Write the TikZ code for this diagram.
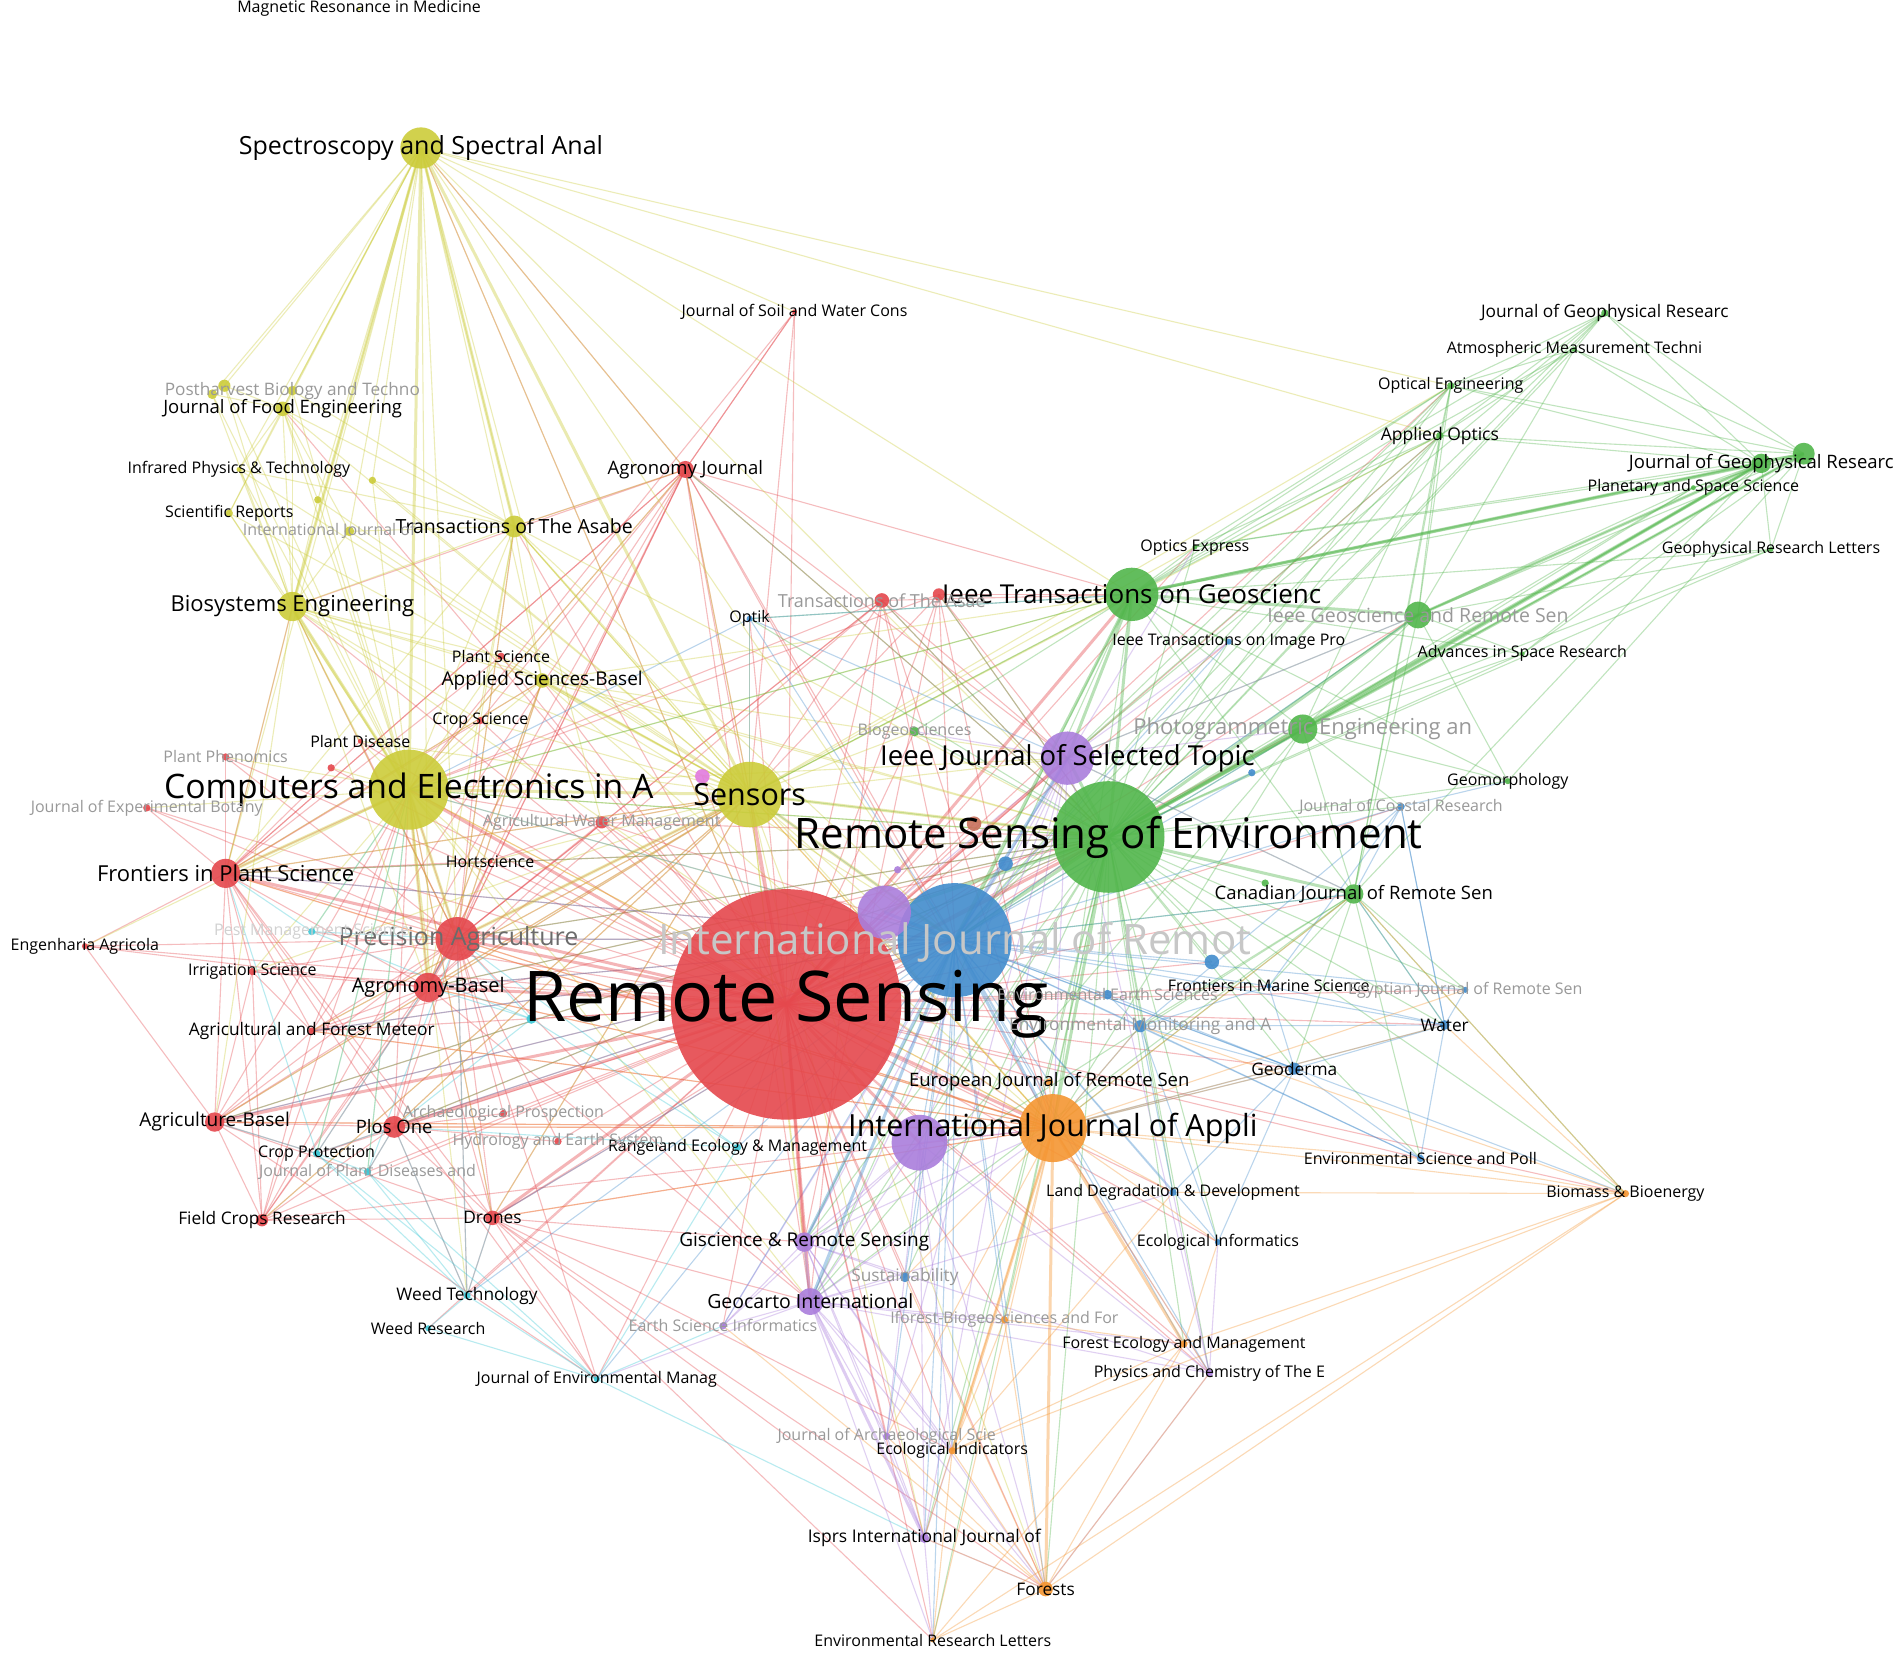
\documentclass[tikz,border=0pt]{standalone}
\usepackage{fontspec}
\setmainfont{Open Sans}
\usepackage{xcolor}
\definecolor{cred}{RGB}{229, 72, 77}
\definecolor{cgreen}{RGB}{82, 182, 76}
\definecolor{cblue}{RGB}{66, 140, 205}
\definecolor{cyellow}{RGB}{204, 204, 58}
\definecolor{cpurple}{RGB}{170, 126, 220}
\definecolor{corange}{RGB}{245, 150, 50}
\definecolor{ccyan}{RGB}{60, 200, 215}
\definecolor{cpink}{RGB}{226, 122, 222}
\definecolor{cbrown}{RGB}{200, 112, 92}
\pgfdeclarelayer{bg}
\pgfdeclarelayer{fg}
\pgfsetlayers{bg,main,fg}

\begin{document}
\begin{tikzpicture}[x=1.213pt, y=-1.213pt,
    jnl/.style 2 args={circle, fill=#1, fill opacity=0.9, inner sep=0pt, minimum size={#2*2.426pt}},
    lnk/.style={line width=1.1pt, draw opacity=0.36},
    lnkb/.style={line width=3pt, draw opacity=0.4},
    lbl/.style={font=\fontsize{#1pt}{#1pt}\selectfont, inner sep=0pt, text=black},
    lblf/.style={lbl=#1, text=black!40}]

  \begin{pgfonlayer}{bg}
    \fill[white] (0,0) rectangle (1568,1373);
  \end{pgfonlayer}
  \useasboundingbox (0,0) rectangle (1568,1373);

  % red cluster
  \node[jnl={cred}{95}]  (rs)     at (648,828)  {};
  \node[jnl={cred}{18}]  (pa)     at (377,774)  {};
  \node[jnl={cred}{12}]  (fps)    at (186,720)  {};
  \node[jnl={cred}{12}]  (agb)    at (353,814)  {};
  \node[jnl={cred}{8}]   (agrb)   at (177,925)  {};
  \node[jnl={cred}{9}]   (plos)   at (325,929)  {};
  \node[jnl={cred}{7}]   (agj)    at (565,387)  {};
  \node[jnl={cred}{5}]   (fcr)    at (216,1006) {};
  \node[jnl={cred}{6}]   (drones) at (406,1004) {};
  \node[jnl={cred}{3}]   (afm)    at (257,850)  {};
  \node[jnl={cred}{3}]   (irr)    at (208,801)  {};
  \node[jnl={cred}{2.5}] (eng)    at (70,780)   {};
  \node[jnl={cred}{2}]   (hort)   at (404,710)  {};
  \node[jnl={cred}{5}]   (awm)    at (496,678)  {};
  \node[jnl={cred}{2}]   (pdis)   at (297,611)  {};
  \node[jnl={cred}{3}]   (pphen)  at (186,624)  {};
  \node[jnl={cred}{3}]   (jeb)    at (121,666)  {};
  \node[jnl={cred}{3}]   (csci)   at (396,594)  {};
  \node[jnl={cred}{3}]   (psci)   at (413,541)  {};
  \node[jnl={cred}{6}]   (tasae)  at (727,495)  {};
  \node[jnl={cred}{5}]   (rdot1)  at (774,490)  {};
  \node[jnl={cred}{3}]   (arch)   at (415,918)  {};
  \node[jnl={cred}{3}]   (hydro)  at (460,941)  {};
  \node[jnl={cred}{2}]   (jswc)   at (655,257)  {};
  \node[jnl={cred}{3}]   (rdot2)  at (273,633)  {};
  % yellow cluster
  \node[jnl={cyellow}{33}]  (cea)    at (337,651) {};
  \node[jnl={cyellow}{27}]  (sen)    at (618,655) {};
  \node[jnl={cyellow}{17}]  (ssa)    at (347,122) {};
  \node[jnl={cyellow}{12}]  (bse)    at (241,500) {};
  \node[jnl={cyellow}{9}]   (tasabe) at (424,434) {};
  \node[jnl={cyellow}{6}]   (jfe)    at (233,337) {};
  \node[jnl={cyellow}{6}]   (asb)    at (447,561) {};
  \node[jnl={cyellow}{4}]   (pbt)    at (241,322) {};
  \node[jnl={cyellow}{2}]   (ipt)    at (197,387) {};
  \node[jnl={cyellow}{3}]   (scir)   at (189,423) {};
  \node[jnl={cyellow}{4}]   (ijag)   at (288,438) {};
  \node[jnl={cyellow}{5}]   (ydot1)  at (185,318) {};
  \node[jnl={cyellow}{4}]   (ydot2)  at (175,325) {};
  \node[jnl={cyellow}{3}]   (ydot3)  at (262,412) {};
  \node[jnl={cyellow}{3}]   (ydot4)  at (307,396) {};
  \node[jnl={cyellow}{1.5}] (mrm)    at (296,7)   {};
  % green cluster
  \node[jnl={cgreen}{46}]  (rse)    at (914,690)  {};
  \node[jnl={cgreen}{22}]  (tgrs)   at (933,490)  {};
  \node[jnl={cgreen}{11}]  (grsl)   at (1169,507) {};
  \node[jnl={cgreen}{12}]  (pers)   at (1074,601) {};
  \node[jnl={cgreen}{8}]   (cjrs)   at (1116,737) {};
  \node[jnl={cgreen}{9}]   (jgra)   at (1487,374) {};
  \node[jnl={cgreen}{8}]   (jgrb)   at (1452,382) {};
  \node[jnl={cgreen}{3}]   (jgrt)   at (1323,258) {};
  \node[jnl={cgreen}{2}]   (amt)    at (1298,288) {};
  \node[jnl={cgreen}{3}]   (opteng) at (1196,318) {};
  \node[jnl={cgreen}{3}]   (aopt)   at (1187,359) {};
  \node[jnl={cgreen}{2}]   (pss)    at (1396,402) {};
  \node[jnl={cgreen}{2}]   (grl)    at (1460,453) {};
  \node[jnl={cgreen}{2}]   (opex)   at (985,451)  {};
  \node[jnl={cgreen}{2}]   (asr)    at (1255,539) {};
  \node[jnl={cgreen}{2.5}] (geom)   at (1243,644) {};
  \node[jnl={cgreen}{4}]   (biog)   at (754,603)  {};
  \node[jnl={cgreen}{3}]   (gdot)   at (1043,728) {};
  % blue cluster
  \node[jnl={cblue}{47}]  (ijrs)     at (787,775)  {};
  \node[jnl={cblue}{2.5}] (optik)    at (618,510)  {};
  \node[jnl={cblue}{2.5}] (tip)      at (1013,529) {};
  \node[jnl={cblue}{3}]   (jcr)      at (1155,665) {};
  \node[jnl={cblue}{2}]   (fms)      at (1046,813) {};
  \node[jnl={cblue}{6}]   (bdot1)    at (999,793)  {};
  \node[jnl={cblue}{2.5}] (ejrs)     at (1208,816) {};
  \node[jnl={cblue}{4}]   (water)    at (1191,845) {};
  \node[jnl={cblue}{5}]   (ema)      at (940,846)  {};
  \node[jnl={cblue}{4}]   (eesc)     at (913,820)  {};
  \node[jnl={cblue}{5}]   (geoderma) at (1067,881) {};
  \node[jnl={cblue}{3}]   (esp)      at (1171,955) {};
  \node[jnl={cblue}{3}]   (ldd)      at (967,983)  {};
  \node[jnl={cblue}{2.5}] (ecoinf)   at (1004,1024) {};
  \node[jnl={cblue}{4}]   (sust)     at (746,1053) {};
  \node[jnl={cblue}{6}]   (bdot2)    at (829,712)  {};
  \node[jnl={cblue}{3}]   (bdot3)    at (1032,637) {};
  % purple cluster
  \node[jnl={cpurple}{22}] (pu1)    at (729,752)  {};
  \node[jnl={cpurple}{22}] (jstars) at (880,625)  {};
  \node[jnl={cpurple}{23}] (pu2)    at (758,942)  {};
  \node[jnl={cpurple}{11}] (geo)    at (668,1073) {};
  \node[jnl={cpurple}{8}]  (gis)    at (663,1024) {};
  \node[jnl={cpurple}{3}]  (esi)    at (596,1093) {};
  \node[jnl={cpurple}{3}]  (jarch)  at (731,1184) {};
  \node[jnl={cpurple}{4}]  (isprs)  at (762,1268) {};
  \node[jnl={cpurple}{3}]  (pce)    at (997,1132) {};
  \node[jnl={cpurple}{3}]  (pdot)   at (740,717)  {};
  % orange cluster
  \node[jnl={corange}{28}] (ija)     at (868,930)  {};
  \node[jnl={corange}{3}]  (eurj)    at (865,892)  {};
  \node[jnl={corange}{3}]  (bb)      at (1340,984) {};
  \node[jnl={corange}{3}]  (ifor)    at (828,1088) {};
  \node[jnl={corange}{3}]  (femg)    at (976,1108) {};
  \node[jnl={corange}{3}]  (eind)    at (785,1196) {};
  \node[jnl={corange}{6}]  (forests) at (862,1310) {};
  \node[jnl={corange}{2}]  (erl)     at (769,1352) {};
  % cyan cluster
  \node[jnl={ccyan}{3}]   (wt)    at (385,1068) {};
  \node[jnl={ccyan}{2.5}] (wr)    at (353,1095) {};
  \node[jnl={ccyan}{2.5}] (jem)   at (492,1137) {};
  \node[jnl={ccyan}{3}]   (cprot) at (261,951)  {};
  \node[jnl={ccyan}{3}]   (jpd)   at (303,966)  {};
  \node[jnl={ccyan}{3}]   (rang)  at (608,946)  {};
  \node[jnl={ccyan}{3}]   (pest)  at (257,768)  {};
  \node[jnl={ccyan}{4}]   (cdot)  at (438,840)  {};
  % single dots
  \node[jnl={cpink}{6}]  (pkdot) at (579,640) {};
  \node[jnl={cbrown}{6}] (brdot) at (803,679) {};

  % links
  \begin{pgfonlayer}{bg}
  \foreach \src/\col/\tgs in {
      rs/cred/{bse,tasabe,asb,agj,jfe,ssa,fcr,afm,irr,eng,hort,awm,pdis,pphen,jeb,csci,psci,tasae,rdot1,arch,hydro,jswc,rdot2,cprot,jpd,rang,wt,wr,jem,pest,cdot,pers,grsl,cjrs,forests,isprs,eind,erl,femg,sust,esi,ldd,ecoinf,geoderma,water,ema,eurj,bb,esp,pce,ifor,jarch,optik,biog,fms,ejrs,jcr,opex,tip,aopt,opteng,pkdot,brdot,bdot1,bdot2,pdot,eesc},
      pa/cred/{fps,agb,agrb,plos,afm,irr,eng,fcr,drones,hort,awm,csci,pdis,pphen,jeb,agj,cea,sen,bse,tasabe,asb,ija,rse,ijrs,geo,cprot,arch,hydro,wt,jem,tasae},
      fps/cred/{agb,agrb,plos,eng,jeb,pphen,pdis,irr,afm,fcr,cea,sen,bse,asb,psci,csci,hort,drones,ijrs,rse,agj,ija,jem},
      agb/cred/{agrb,plos,afm,irr,fcr,drones,cea,sen,asb,ija,rse,ijrs,hort,awm,eng,geo},
      agrb/cred/{plos,fcr,drones,afm,irr,cea,sen,eng,jem,cprot,ija,ijrs,rse},
      plos/cred/{fcr,drones,cprot,jpd,wt,cea,sen,arch,hydro,ijrs,rse,ija},
      agj/cred/{cea,sen,tasabe,ssa,rse,ijrs,tgrs,agb,fps,jswc,afm,fcr,csci,bse,ija,jstars,geo,pa},
      tasae/cred/{cea,sen,rse,tgrs,ijrs,ija,jstars,pa,agb,geo},
      rdot1/cred/{rse,sen,ijrs,ija,cea,tgrs,jstars,gis},
      drones/cred/{fcr,cea,sen,ija,ijrs,rse,gis,wt,jem,geo,isprs,eind,forests,erl},
      fcr/cred/{cea,afm,irr,sen,ija},
      afm/cred/{cea,sen,rse,irr,ijrs,ija},
      awm/cred/{cea,sen,rse,ijrs,ija,hort},
      jswc/cred/{cea,agj,sen},
      cea/cyellow/{bse,tasabe,jfe,asb,pbt,ipt,scir,ijag,ydot1,ydot2,ydot3,ydot4,pdis,pphen,jeb,csci,psci,hort,eng,irr,rse,ijrs,ija,tgrs,jstars,agj,wt,cprot,jpd,pest,rdot2,geo,gis,drones},
      sen/cyellow/{bse,tasabe,asb,jfe,ipt,scir,ijag,ydot3,ydot4,tgrs,jstars,optik,pu1,ija,geo,gis,agj,opex,aopt,opteng,biog,pkdot,drones,forests,isprs,fps,agb,agrb,plos,afm,irr,hort,awm,csci,psci,pdis,fcr},
      ssa/cyellow/{jfe,ipt,scir,ijag,tasabe,bse,ydot1,ydot2,ydot3,ydot4,pbt,asb,jswc,agj,rse,ijrs,pa,fps,tgrs,aopt,opteng,agb,awm,rs},
      bse/cyellow/{tasabe,jfe,asb,pbt,ipt,scir,ijag,ydot1,ydot2,ydot3,pa,fps,agb,agrb,csci,psci,pdis,rse,ija},
      tasabe/cyellow/{jfe,asb,pbt,ipt,ydot4,ijag,pa,agb,fps,rse,ijrs,ija,sen,agj,csci},
      asb/cyellow/{pa,fps,agb,ijrs,rse,ija,tgrs,jstars,sen},
      jfe/cyellow/{pbt,ipt,scir,ydot1,ydot2,ijag,ydot3},
      rse/cgreen/{jgra,jgrb,jgrt,amt,opteng,aopt,pss,grl,opex,tip,asr,geom,jcr,biog,fms,water,geoderma,ema,eesc,forests,femg,eind,bb,esp,erl,isprs,gis,geo,pu2,gdot,ejrs,ldd,ecoinf,sust,ifor,pce,bdot1,bdot3,agj,tasae,rdot1,optik,pa,fps,agb,cea,sen,agrb,plos},
      tgrs/cgreen/{jgra,jgrt,amt,opteng,aopt,opex,tip,pers,asr,pss,grl,cjrs,sen,cea,geo,gis,biog,optik,geom,ija},
      grsl/cgreen/{jgra,jgrb,pss,asr,grl,ijrs,jstars,pers,aopt,opteng,amt,geom,cjrs},
      pers/cgreen/{jgra,jgrb,pss,grl,asr,ijrs,cjrs,geom,jcr,ija,geo,aopt},
      jgrb/cgreen/{jgra,aopt,opteng,pss,grl,asr,cjrs,amt,jgrt,opex},
      jgra/cgreen/{aopt,opteng,pss,grl,asr,amt,jgrt,opex,geom},
      aopt/cgreen/{opteng,jgrt,amt,ijrs,opex,cjrs,jstars},
      opteng/cgreen/{jgrt,amt,ijrs,opex,jstars,cjrs},
      cjrs/cgreen/{ijrs,jstars,ija,fms,water,geoderma,ema,ejrs,gis,geo,esp,bb},
      jgrt/cgreen/{amt,ijrs,jstars},
      ijrs/cblue/{fms,water,geoderma,ema,esp,ldd,ecoinf,sust,jcr,ejrs,optik,eesc,bdot1,bdot2,bdot3,tip,pu2,isprs,forests,eind,femg,esi,jarch,pce,ifor,erl,bb,cjrs,pers,grsl,eurj,rang,jem,wt,pa,fps,agb,cea,sen,agrb,plos,drones,afm},
      water/cblue/{ema,geoderma,fms,ejrs,esp,ija,cjrs,jcr},
      ema/cblue/{geoderma,fms,ldd,esp,ija,ecoinf,eesc},
      geoderma/cblue/{ldd,esp,fms,ecoinf,ija,eesc},
      optik/cblue/{sen,cea,tgrs,jstars},
      jcr/cblue/{fms,water,ema,cjrs,geom},
      jstars/cpurple/{pu1,pu2,geo,gis,ija,isprs,esi,pce,jarch,cjrs,pers,grsl,biog,opex,tip},
      geo/cpurple/{esi,pce,jarch,ija,eind,forests,erl,ldd,ifor,sust,pu2,jem,femg},
      gis/cpurple/{isprs,esi,pce,jarch,ija,eind,forests,sust,pu2},
      pu2/cpurple/{isprs,pce,jarch,ija,eind,forests,esi},
      pce/cpurple/{femg,forests,ija,ecoinf,ldd},
      isprs/cpurple/{erl,forests,eind,jarch},
      ija/corange/{erl,bb,ifor,isprs,ldd,ecoinf,esp,pce,eurj,sust,jarch,water,geoderma,ema,ejrs,cjrs,pa,fps,agb,agrb,plos,cea,sen,drones,afm},
      forests/corange/{erl,isprs,eind,femg,ifor,sust,pce,esi,jarch,bb},
      femg/corange/{eind,ifor,bb,ecoinf,erl},
      bb/corange/{esp,ema,ldd,eind,erl,cjrs,water},
      eind/corange/{erl,ifor,ldd},
      wt/ccyan/{wr,jem,cprot,plos,drones,pa},
      jem/ccyan/{wr,cprot,jpd,rang,esi,isprs},
      cprot/ccyan/{jpd,plos,fps,agrb,pa,cea},
      jpd/ccyan/{plos,pa,cea,wt},
      rang/ccyan/{pa,plos,cdot},
      pest/ccyan/{pa,fps,cea,cdot},
      cdot/ccyan/{pa,agb,plos}}
    {\foreach \tg in \tgs {\draw[lnk, draw=\col] (\src.center) -- (\tg.center);}}
  % strong links
  \foreach \src/\col/\tgs in {
      rs/cred/{ijrs,rse,cea,sen,pa,agb,fps,ija,pu1,jstars,geo,gis,agrb,plos,drones,tgrs,pu2},
      cea/cyellow/{sen,pa,fps,bse,agb,ssa},
      sen/cyellow/{rse,ijrs,pa,ssa},
      ssa/cyellow/{tasabe,bse},
      rse/cgreen/{ijrs,tgrs,jstars,pers,cjrs,ija,pu1,grsl,jgrb,jgra},
      tgrs/cgreen/{grsl,jstars,ijrs,jgrb,jgra},
      grsl/cgreen/{jgrb},
      pers/cgreen/{jgrb},
      ijrs/cblue/{jstars,ija,pu1,geo,gis},
      geo/cpurple/{gis,isprs},
      ija/corange/{forests,eind,femg}}
    {\foreach \tg in \tgs {\draw[lnkb, draw=\col] (\src.center) -- (\tg.center);}}
  \end{pgfonlayer}

  % labels
  \begin{pgfonlayer}{fg}
  \foreach \n/\txt/\sz in {
      rs/Remote Sensing/70, rse/Remote Sensing of Environment/42,
      cea/Computers and Electronics in A/33.7, ija/International Journal of Appli/30.5,
      sen/Sensors/30.5, jstars/Ieee Journal of Selected Topic/27.5,
      tgrs/Ieee Transactions on Geoscienc/26, ssa/Spectroscopy and Spectral Anal/25,
      fps/Frontiers in Plant Science/22, bse/Biosystems Engineering/22,
      agb/Agronomy-Basel/20, tasabe/Transactions of The Asabe/19.5,
      geo/Geocarto International/19.5, agrb/Agriculture-Basel/19,
      gis/Giscience \& Remote Sensing/19, asb/Applied Sciences-Basel/19,
      plos/Plos One/18.5, jfe/Journal of Food Engineering/18.5,
      agj/Agronomy Journal/18.5, cjrs/Canadian Journal of Remote Sen/18.5,
      eurj/European Journal of Remote Sen/18.5, jgrb/Journal of Geophysical Researc/18.5,
      aopt/Applied Optics/17.5, isprs/Isprs International Journal of/17.5,
      jgrt/Journal of Geophysical Researc/17.3, wt/Weed Technology/17.3,
      drones/Drones/17.3, fcr/Field Crops Research/17.3,
      afm/Agricultural and Forest Meteor/17.3, water/Water/17.3,
      geoderma/Geoderma/17.3, forests/Forests/17.3,
      amt/Atmospheric Measurement Techni/16, opteng/Optical Engineering/16,
      pss/Planetary and Space Science/16, grl/Geophysical Research Letters/16,
      opex/Optics Express/16, tip/Ieee Transactions on Image Pro/16,
      asr/Advances in Space Research/16, geom/Geomorphology/16,
      fms/Frontiers in Marine Science/16, esp/Environmental Science and Poll/16,
      bb/Biomass \& Bioenergy/16, ldd/Land Degradation \& Development/16,
      ecoinf/Ecological Informatics/16, femg/Forest Ecology and Management/16,
      pce/Physics and Chemistry of The E/16, eind/Ecological Indicators/16,
      erl/Environmental Research Letters/16, jem/Journal of Environmental Manag/16,
      wr/Weed Research/16, cprot/Crop Protection/16,
      rang/Rangeland Ecology \& Management/16, irr/Irrigation Science/16,
      eng/Engenharia Agricola/16, hort/Hortscience/16,
      pdis/Plant Disease/16, csci/Crop Science/16,
      psci/Plant Science/16, optik/Optik/16,
      jswc/Journal of Soil and Water Cons/16, mrm/Magnetic Resonance in Medicine/16,
      ipt/Infrared Physics \& Technology/16, scir/Scientific Reports/16}
    {\node[lbl=\sz] (\n-t) at (\n) {\txt};}
  \foreach \n/\txt/\sz in {
      grsl/Ieee Geoscience and Remote Sen/19.5, pers/Photogrammetric Engineering an/22,
      tasae/Transactions of The Asae/18, ema/Environmental Monitoring and A/17.3,
      sust/Sustainability/17.3, pbt/Postharvest Biology and Techno/17.2,
      jcr/Journal of Coastal Research/16, ejrs/Egyptian Journal of Remote Sen/16,
      eesc/Environmental Earth Sciences/16, ifor/Iforest-Biogeosciences and For/16,
      esi/Earth Science Informatics/16, jarch/Journal of Archaeological Scie/16,
      jpd/Journal of Plant Diseases and/16, arch/Archaeological Prospection/16,
      hydro/Hydrology and Earth System/16, awm/Agricultural Water Management/16,
      pphen/Plant Phenomics/16, jeb/Journal of Experimental Botany/16,
      biog/Biogeosciences/16}
    {\node[lblf=\sz] (\n-t) at (\n) {\txt};}
  \node[lblf=42, text=black!22] (ijrs-t) at (787,777) {International Journal of Remot};
  \node[lblf=25, text=black!58] (pa-t) at (378,774) {Precision Agriculture};
  \node[lblf=16, text=black!18] (pest-t) at (257,768) {Pest Management Science};
  \node[lblf=16, anchor=west] (ijag-t) at (200,438) {International Journal of};
  \end{pgfonlayer}
\end{tikzpicture}
\end{document}
